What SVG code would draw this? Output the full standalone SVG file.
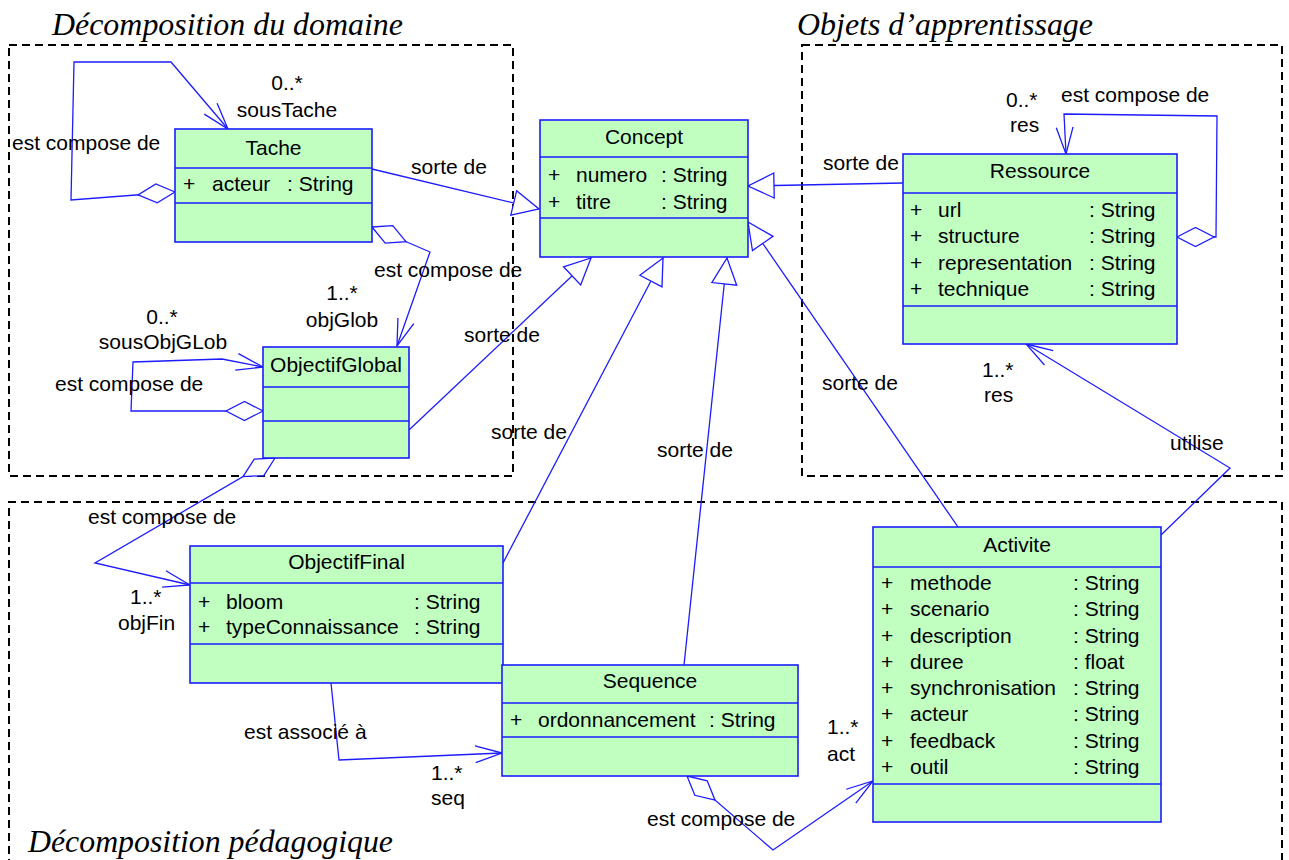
<svg xmlns="http://www.w3.org/2000/svg" width="1289" height="860" viewBox="0 0 1289 860">
<style>
.frame{fill:none;stroke:#000;stroke-width:2;stroke-dasharray:8 5}
.title{font-family:"Liberation Serif","Times New Roman",serif;font-style:italic;font-size:31px;fill:#000}
.box{fill:#c0ffc0;stroke:#1c1cff;stroke-width:1.6}
.sep{stroke:#1c1cff;stroke-width:1.6}
text{font-family:"Liberation Sans",Arial,sans-serif;font-size:21px;fill:#000}
.c{text-anchor:middle}
.ln{fill:none;stroke:#1c1cff;stroke-width:1.3}
.comp{marker-start:url(#dia);marker-end:url(#arr)}
.assoc{marker-end:url(#arr)}
.gen{marker-end:url(#tri)}
</style>
<defs>
<marker id="dia" markerUnits="userSpaceOnUse" viewBox="0 0 40 22" markerWidth="40" markerHeight="22" refX="1" refY="11" orient="auto">
<path d="M1,11 L19.5,1.5 L38,11 L19.5,20.5 Z" fill="#fff" stroke="#1c1cff" stroke-width="1.3"/>
</marker>
<marker id="arr" markerUnits="userSpaceOnUse" viewBox="0 0 30 20" markerWidth="30" markerHeight="20" refX="28" refY="10" orient="auto">
<path d="M1.3,1.6 L28,10 L1.3,18.4" fill="none" stroke="#1c1cff" stroke-width="1.3"/>
</marker>
<marker id="tri" markerUnits="userSpaceOnUse" viewBox="0 0 30 28" markerWidth="30" markerHeight="28" refX="27" refY="14" orient="auto">
<path d="M1,1.5 L27,14 L1,26.5 Z" fill="#fff" stroke="#1c1cff" stroke-width="1.3"/>
</marker>
</defs>
<rect width="1289" height="860" fill="#fff"/>
<g id="frames">
<rect class="frame" x="9" y="45" width="504" height="431"/>
<rect class="frame" x="802" y="45" width="480" height="431"/>
<path class="frame" d="M9,880 L9,502 L1282,502 L1282,880"/>
<text class="title" x="52" y="35" textLength="351" lengthAdjust="spacingAndGlyphs">Décomposition du domaine</text>
<text class="title" x="797" y="35" textLength="296" lengthAdjust="spacingAndGlyphs">Objets d’apprentissage</text>
<text class="title" x="28" y="852" textLength="365" lengthAdjust="spacingAndGlyphs">Décomposition pédagogique</text>
</g>
<g id="connectors">
<path class="ln comp" d="M175,192 L71,200 L74,62 L171,62 L228,129"/>
<path class="ln comp" d="M372,227 L430,252 L397,346"/>
<path class="ln comp" d="M263,411 L131,411 L133,362 L222,359 L263,367"/>
<path class="ln comp" d="M275,458 L95,563 L190,585"/>
<path class="ln assoc" d="M331,683 L339,760 L502,753"/>
<path class="ln comp" d="M687,776 L773,850 L873,781"/>
<path class="ln assoc" d="M1161,535 L1230,468 L1026,344"/>
<path class="ln comp" d="M1177,237 L1216,237 L1217,116 L1064,114 L1066,154"/>
<path class="ln gen" d="M372,169 L539,209"/>
<path class="ln gen" d="M409,430 L591,258"/>
<path class="ln gen" d="M503,563 L663,258"/>
<path class="ln gen" d="M684,665 L727,258"/>
<path class="ln gen" d="M958,527 L748,222"/>
<path class="ln gen" d="M903,183 L748,186"/>
<text class="c" x="287" y="90">0..*</text>
<text class="c" x="287" y="117">sousTache</text>
<text x="12" y="150">est compose de</text>
<text x="411" y="174">sorte de</text>
<text x="374" y="277">est compose de</text>
<text class="c" x="342" y="300">1..*</text>
<text class="c" x="342" y="327">objGlob</text>
<text class="c" x="162" y="324">0..*</text>
<text class="c" x="163" y="349">sousObjGLob</text>
<text x="55" y="391">est compose de</text>
<text x="464" y="342">sorte de</text>
<text x="491" y="439">sorte de</text>
<text x="657" y="457">sorte de</text>
<text x="822" y="390">sorte de</text>
<text x="823" y="170">sorte de</text>
<text x="1006" y="107">0..*</text>
<text x="1010" y="132">res</text>
<text x="1061" y="102">est compose de</text>
<text x="982" y="377">1..*</text>
<text x="984" y="402">res</text>
<text x="1170" y="450">utilise</text>
<text x="88" y="524">est compose de</text>
<text x="130" y="604">1..*</text>
<text x="118" y="630">objFin</text>
<text x="244" y="739">est associé à</text>
<text x="431" y="780">1..*</text>
<text x="431" y="805">seq</text>
<text x="827" y="734">1..*</text>
<text x="827" y="761">act</text>
<text x="647" y="826">est compose de</text>
</g>
<g id="Tache">
<rect class="box" x="175" y="129" width="197" height="113"/>
<line class="sep" x1="175" y1="168" x2="372" y2="168"/>
<line class="sep" x1="175" y1="203" x2="372" y2="203"/>
<text class="c" x="273.5" y="155">Tache</text>
<text y="191"><tspan x="183">+</tspan><tspan x="212">acteur</tspan><tspan x="287">: String</tspan></text>
</g>
<g id="Concept">
<rect class="box" x="540" y="120" width="208" height="137"/>
<line class="sep" x1="540" y1="157" x2="748" y2="157"/>
<line class="sep" x1="540" y1="218" x2="748" y2="218"/>
<text class="c" x="644" y="144">Concept</text>
<text y="182"><tspan x="548">+</tspan><tspan x="576">numero</tspan><tspan x="661">: String</tspan></text>
<text y="209"><tspan x="548">+</tspan><tspan x="576">titre</tspan><tspan x="661">: String</tspan></text>
</g>
<g id="Ressource">
<rect class="box" x="903" y="154" width="274" height="190"/>
<line class="sep" x1="903" y1="193" x2="1177" y2="193"/>
<line class="sep" x1="903" y1="306" x2="1177" y2="306"/>
<text class="c" x="1040" y="178">Ressource</text>
<text y="217"><tspan x="910">+</tspan><tspan x="938">url</tspan><tspan x="1089">: String</tspan></text>
<text y="243"><tspan x="910">+</tspan><tspan x="938">structure</tspan><tspan x="1089">: String</tspan></text>
<text y="270"><tspan x="910">+</tspan><tspan x="938">representation</tspan><tspan x="1089">: String</tspan></text>
<text y="296"><tspan x="910">+</tspan><tspan x="938">technique</tspan><tspan x="1089">: String</tspan></text>
</g>
<g id="ObjectifGlobal">
<rect class="box" x="263" y="347" width="146" height="111"/>
<line class="sep" x1="263" y1="387" x2="409" y2="387"/>
<line class="sep" x1="263" y1="421" x2="409" y2="421"/>
<text class="c" x="336" y="372">ObjectifGlobal</text>
</g>
<g id="ObjectifFinal">
<rect class="box" x="190" y="546" width="313" height="137"/>
<line class="sep" x1="190" y1="583" x2="503" y2="583"/>
<line class="sep" x1="190" y1="644" x2="503" y2="644"/>
<text class="c" x="346.5" y="569">ObjectifFinal</text>
<text y="609"><tspan x="198">+</tspan><tspan x="226">bloom</tspan><tspan x="414">: String</tspan></text>
<text y="634"><tspan x="198">+</tspan><tspan x="226">typeConnaissance</tspan><tspan x="414">: String</tspan></text>
</g>
<g id="Sequence">
<rect class="box" x="502" y="665" width="296" height="111"/>
<line class="sep" x1="502" y1="703" x2="798" y2="703"/>
<line class="sep" x1="502" y1="737" x2="798" y2="737"/>
<text class="c" x="650" y="688">Sequence</text>
<text y="727"><tspan x="510">+</tspan><tspan x="538">ordonnancement</tspan><tspan x="709">: String</tspan></text>
</g>
<g id="Activite">
<rect class="box" x="873" y="527" width="288" height="295"/>
<line class="sep" x1="873" y1="567" x2="1161" y2="567"/>
<line class="sep" x1="873" y1="784" x2="1161" y2="784"/>
<text class="c" x="1017" y="552">Activite</text>
<text y="590"><tspan x="881">+</tspan><tspan x="910">methode</tspan><tspan x="1073">: String</tspan></text>
<text y="616"><tspan x="881">+</tspan><tspan x="910">scenario</tspan><tspan x="1073">: String</tspan></text>
<text y="643"><tspan x="881">+</tspan><tspan x="910">description</tspan><tspan x="1073">: String</tspan></text>
<text y="669"><tspan x="881">+</tspan><tspan x="910">duree</tspan><tspan x="1073">: float</tspan></text>
<text y="695"><tspan x="881">+</tspan><tspan x="910">synchronisation</tspan><tspan x="1073">: String</tspan></text>
<text y="721"><tspan x="881">+</tspan><tspan x="910">acteur</tspan><tspan x="1073">: String</tspan></text>
<text y="748"><tspan x="881">+</tspan><tspan x="910">feedback</tspan><tspan x="1073">: String</tspan></text>
<text y="774"><tspan x="881">+</tspan><tspan x="910">outil</tspan><tspan x="1073">: String</tspan></text>
</g>
</svg>
